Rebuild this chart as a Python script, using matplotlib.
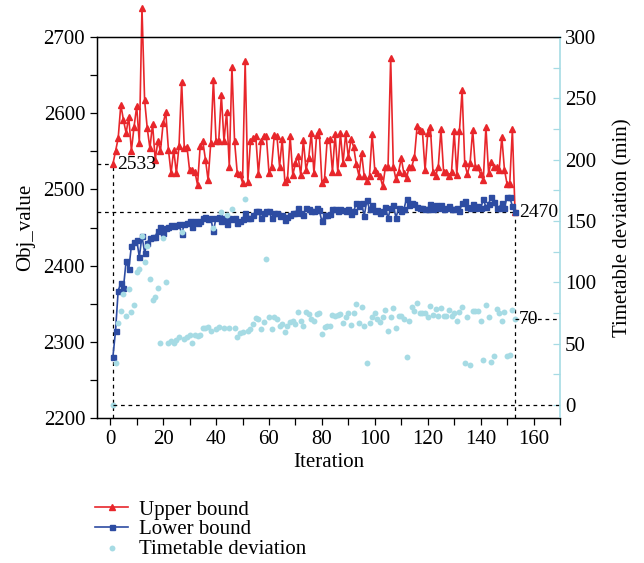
import numpy as np
import matplotlib
matplotlib.use("Agg")
import matplotlib.pyplot as plt
from matplotlib.ticker import MultipleLocator

plt.rcParams['font.family'] = ['Liberation Serif', 'DejaVu Serif']

# Iteration 1..153
iterations = np.arange(1, 154)

upper_bound = [
    2533, 2550, 2567, 2611, 2591, 2574, 2595, 2551, 2582, 2609,
    2561, 2738, 2617, 2580, 2554, 2586, 2539, 2563, 2551, 2587,
    2601, 2552, 2521, 2552, 2521, 2557, 2641, 2554, 2556, 2525,
    2525, 2523, 2506, 2557, 2563, 2539, 2512, 2561, 2644, 2563,
    2563, 2624, 2563, 2602, 2530, 2661, 2563, 2522, 2520, 2509,
    2668, 2510, 2563, 2567, 2570, 2520, 2563, 2570, 2570, 2522,
    2530, 2571, 2570, 2530, 2566, 2510, 2514, 2570, 2519, 2534,
    2544, 2519, 2565, 2526, 2541, 2574, 2521, 2571, 2576, 2509,
    2514, 2565, 2566, 2523, 2573, 2523, 2574, 2534, 2574, 2542,
    2566, 2556, 2533, 2518, 2548, 2517, 2511, 2518, 2573, 2525,
    2521, 2517, 2504, 2529, 2529, 2673, 2530, 2513, 2523, 2541,
    2521, 2515, 2530, 2530, 2543, 2583, 2578, 2576, 2525, 2574,
    2582, 2523, 2518, 2530, 2579, 2523, 2523, 2517, 2523, 2576,
    2519, 2577, 2630, 2534, 2520, 2534, 2578, 2529, 2529, 2520,
    2512, 2582, 2522, 2536, 2530, 2529, 2525, 2569, 2526, 2507,
    2507, 2579, 2470,
]

lower_bound = [
    2280, 2314, 2367, 2377, 2371, 2406, 2395, 2426, 2431, 2434,
    2411, 2439, 2417, 2430, 2436, 2437, 2438, 2446, 2451, 2443,
    2450, 2451, 2453, 2452, 2453, 2455, 2441, 2455, 2456, 2458,
    2451, 2458, 2456, 2458, 2463, 2464, 2461, 2462, 2445, 2463,
    2464, 2458, 2463, 2455, 2463, 2461, 2462, 2456, 2459, 2461,
    2469, 2462, 2463, 2466, 2472, 2471, 2462, 2469, 2471, 2472,
    2462, 2469, 2469, 2465, 2466, 2460, 2464, 2467, 2469, 2469,
    2476, 2469, 2466, 2476, 2474, 2472, 2471, 2475, 2473, 2458,
    2466, 2467, 2468, 2474, 2474, 2472, 2474, 2473, 2471, 2474,
    2468, 2471, 2482, 2478, 2482, 2465, 2486, 2474, 2479, 2471,
    2473, 2469, 2472, 2477, 2462, 2476, 2479, 2463, 2475, 2472,
    2474, 2488, 2479, 2482, 2481, 2477, 2476, 2476, 2474, 2474,
    2481, 2474, 2479, 2475, 2479, 2474, 2476, 2478, 2474, 2474,
    2476, 2472, 2482, 2485, 2477, 2475, 2481, 2476, 2478, 2475,
    2487, 2477, 2481, 2490, 2484, 2475, 2476, 2482, 2476, 2490,
    2490, 2478, 2470,
]

deviation = [
    0, 34, 66.5, 76.6, 90.5, 72.5, 94.5, 75.5, 81.5, 108.6,
    110.6, 137.7, 116.8, 129.6, 102.7, 85.6, 87.7, 95.6, 50.8, 135.8,
    100, 50.8, 52.4, 50.3, 53, 55.7, 140.7, 53.5, 55.7, 57,
    50.8, 57, 56.2, 57, 62.5, 62.5, 63.8, 60.6, 144, 61.7,
    63.8, 157, 62.5, 154.9, 62.5, 159.8, 62.5, 55.7, 58.4, 59.8,
    167.6, 60.6, 61.7, 66, 71.2, 69.8, 61.7, 67.9, 118.7, 72,
    61.7, 71.4, 69.8, 64.4, 66, 59.8, 64.4, 67.9, 68.7, 66,
    75.5, 68.7, 64.6, 76, 74.2, 69.8, 68.7, 74.2, 74.7, 57.9,
    63.8, 64.6, 64.6, 73.3, 72.5, 73.3, 74.2, 67.1, 71.4, 74.7,
    65.2, 75.3, 82.3, 67.1, 80.1, 64.4, 34.5, 66.5, 71.4, 74.7,
    69.8, 67.9, 71.4, 77.4, 60.6, 71.4, 78.8, 62.5, 72.5, 72.5,
    69.8, 38.8, 68.7, 79.6, 76.9, 82.9, 75.3, 74.7, 74.7, 72,
    80.7, 73.3, 78, 72.5, 78.8, 72.5, 72.5, 77.4, 72.5, 75.3,
    68.7, 76, 79.6, 33.9, 71.4, 32.6, 76.9, 76.9, 76.9, 68.7,
    36.7, 81.5, 72, 35.3, 39.9, 78, 75.3, 68.7, 76, 39.9,
    40.7, 77.4, 70,
]

RED = '#e8262b'
BLUE = '#2d4ca2'
LIGHT = '#a6dbe4'
FS = 15

fig = plt.figure(figsize=(6.44, 5.63), dpi=100)
ax = fig.add_axes([97 / 644, 1 - 418 / 563, 463 / 644, 381 / 563])
ax2 = ax.twinx()

# upper bound spikes above the frame in the original, so no clipping
l1, = ax.plot(iterations, upper_bound, color=RED, lw=1.2, marker='^',
              markersize=4.5, label='Upper bound', clip_on=False, zorder=3)
l2, = ax.plot(iterations, lower_bound, color=BLUE, lw=1.2, marker='s',
              markersize=3.6, label='Lower bound', zorder=4)
s1 = ax2.scatter(iterations, deviation, s=18, color=LIGHT, linewidths=0,
                 label='Timetable deviation')

ax.set_xlim(-5, 170)
ax.set_ylim(2200, 2700)
ax2.set_ylim(-10.6, 300)

# reference dashed lines
x0, x1 = iterations[0], iterations[-1]
ub0, lbN, devN = upper_bound[0], lower_bound[-1], deviation[-1]
dash = dict(color='black', lw=0.9, ls=(0, (3, 3)))
ax.plot([-5, x0], [ub0, ub0], **dash)
ax.plot([x0, x0], [2200, ub0], **dash)
ax.plot([-5, x1], [lbN, lbN], **dash)
ax.plot([x1, x1], [2200, lbN], **dash)
ax2.plot([x0, 170], [0, 0], **dash)
ax2.plot([x1, 170], [devN, devN], **dash)

ax.annotate(str(ub0), (x0, ub0), xytext=(3, 0), textcoords='offset points',
            va='center', ha='left', fontsize=14)
ax.annotate(str(lbN), (x1, lbN), xytext=(3, 0), textcoords='offset points',
            va='center', ha='left', fontsize=14)
ax2.annotate(str(int(devN)), (x1, devN), xytext=(3, 0), textcoords='offset points',
             va='center', ha='left', fontsize=14)

# axes styling
ax.xaxis.set_major_locator(MultipleLocator(20))
ax.xaxis.set_minor_locator(MultipleLocator(10))
ax.yaxis.set_major_locator(MultipleLocator(100))
ax.yaxis.set_minor_locator(MultipleLocator(50))
ax.tick_params(axis='both', which='both', direction='out', length=5,
               width=0.9, labelsize=FS)
ax2.yaxis.set_major_locator(MultipleLocator(50))
ax2.yaxis.set_minor_locator(MultipleLocator(25))
ax2.tick_params(axis='y', which='both', direction='in', length=5, width=0.9,
                color=LIGHT, labelcolor='black', labelsize=FS)
ax2.spines['right'].set_color(LIGHT)
ax2.spines['right'].set_linewidth(1.2)
for sp in ['left', 'top', 'bottom']:
    ax.spines[sp].set_linewidth(1.0)
ax.spines['right'].set_visible(False)

ax.set_xlabel('Iteration', fontsize=FS, labelpad=3)
ax.set_ylabel('Obj_value', fontsize=FS, labelpad=6)
ax2.set_ylabel('Timetable deviation (min)', fontsize=FS, labelpad=12)

fig.legend(handles=[l1, l2, s1], loc='upper left',
           bbox_to_anchor=(95 / 644, 1 - 500 / 563), frameon=False,
           fontsize=FS, handlelength=1.6, handletextpad=0.5,
           labelspacing=0.0, borderpad=0, borderaxespad=0)

fig.savefig('out.png', dpi=100)
